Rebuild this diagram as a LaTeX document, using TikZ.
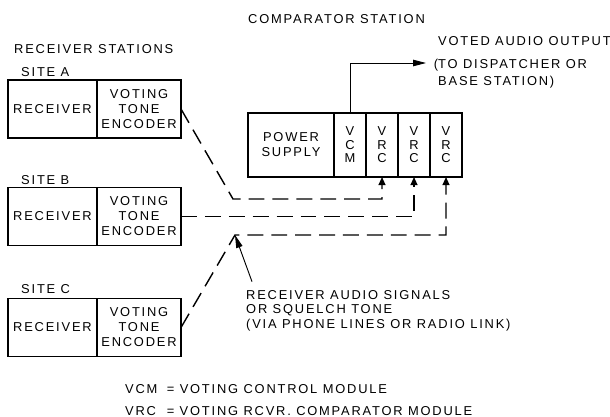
\documentclass[tikz,border=0pt]{standalone}
\usepackage{fontspec}
\setmainfont{Liberation Sans}[LetterSpace=14]
\usetikzlibrary{arrows.meta,positioning}
\newcommand\lbl{\fontsize{11}{12.8}\selectfont}
\tikzset{
  >={Triangle[length=7pt,width=6pt]},
  long/.style={-{Triangle[length=11pt,width=5.5pt]}},
  unit/.style={draw,line width=1.2pt,inner sep=0pt,outer sep=0pt,
    minimum width=#1,minimum height=1.74cm,align=center,font=\lbl},
  unit/.default=2.67cm,
  cell/.style={draw,line width=1.2pt,inner sep=0pt,outer sep=0pt,
    minimum width=#1,minimum height=1.92cm,align=center,
    font=\fontsize{11}{11.5}\selectfont},
  cell/.default=0.96cm,
  sig/.style={->,line width=1.2pt,dash pattern=on 13.6pt off 6.8pt},
  tag/.style={inner sep=0pt,font=\lbl,align=left},
}

\begin{document}
\begin{tikzpicture}[x=0.03cm,y=-0.03cm]
  \useasboundingbox (0,0) rectangle (610,417);
  \node[tag,anchor=base west] (rcvtitle) at (14,53) {RECEIVER STATIONS};
  \node[tag,anchor=base west] (cmptitle) at (248,23) {COMPARATOR STATION};

  % receiver sites
  \node[tag,anchor=base west] (siteA) at (21,76) {SITE A};
  \node[unit] (recA) at (52.5,109) {RECEIVER};
  \node[unit=2.52cm,right=0pt of recA] (encA) {VOTING\\TONE\\ENCODER};
  \node[tag,anchor=base west] (siteB) at (21,184) {SITE B};
  \node[unit] (recB) at (52.5,216.5) {RECEIVER};
  \node[unit=2.52cm,right=0pt of recB] (encB) {VOTING\\TONE\\ENCODER};
  \node[tag,anchor=base west] (siteC) at (21,293) {SITE C};
  \node[unit] (recC) at (52.5,327.5) {RECEIVER};
  \node[unit=2.52cm,right=0pt of recC] (encC) {VOTING\\TONE\\ENCODER};

  % comparator rack
  \node[cell=2.58cm,font=\lbl] (ps) at (291,145) {POWER\\SUPPLY};
  \node[cell,right=0pt of ps] (vcm) {V\\C\\M};
  \node[cell,right=0pt of vcm] (vrc1) {V\\R\\C};
  \node[cell,right=0pt of vrc1] (vrc2) {V\\R\\C};
  \node[cell,right=0pt of vrc2] (vrc3) {V\\R\\C};

  \coordinate (outtip) at (426,63);
  \draw[long,line width=0.8pt] (vcm.north) |- (outtip);
  \node[tag,anchor=base west,font=\fontsize{11}{14.5}\selectfont] (out) at (438,85)
    {VOTED AUDIO OUTPUT\\[5pt]\llap{(}TO DISPATCHER OR\\BASE STATION)};

  \coordinate (bendA) at (233,199);
  \coordinate (bendC) at (235,235);
  \draw[sig] (encA.east) -- (bendA) -| (vrc1.south);
  \draw[sig] (encB.east) -| (vrc2.south);
  \draw[sig] (encC.east) -- (bendC) -| (vrc3.south);

  \node[tag,anchor=north west,font=\fontsize{11}{12.5}\selectfont] (note) at (246,290)
    {RECEIVER AUDIO SIGNALS\\OR SQUELCH TONE\\(VIA PHONE LINES OR RADIO LINK)};
  \draw[long,line width=0.8pt] ([xshift=0.18cm,yshift=0.25cm]note.north west) -- (bendC);

  \node[tag,anchor=north west] (legend) at (125,383)
    {\begin{tabular}{@{}l@{\hspace{8pt}}l@{}}
      VCM & = VOTING CONTROL MODULE\\[6pt]
      VRC & = VOTING RCVR. COMPARATOR MODULE
    \end{tabular}};
\end{tikzpicture}
\end{document}
